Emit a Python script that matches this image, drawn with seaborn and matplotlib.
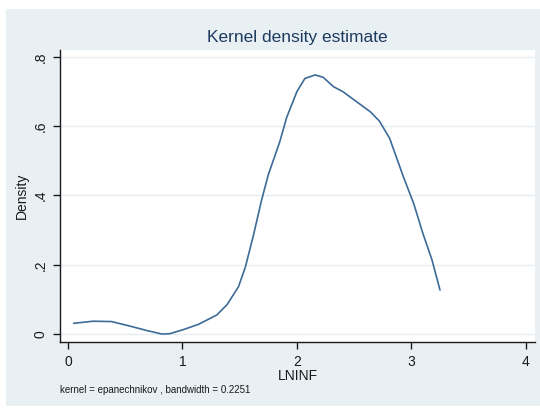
import matplotlib
matplotlib.use("Agg")
import matplotlib.pyplot as plt
import seaborn as sns
import pandas as pd
from matplotlib.patches import Rectangle

sns.set_theme(style="white")
plt.rcParams['font.family'] = ['Liberation Sans', 'DejaVu Sans']

lninf = [0.05, 0.22, 0.38, 0.54, 0.69, 0.82, 0.89, 1.01, 1.14, 1.30, 1.39, 1.49,
         1.55, 1.62, 1.69, 1.75, 1.85, 1.91, 2.00, 2.07, 2.16, 2.23, 2.32, 2.40,
         2.52, 2.64, 2.72, 2.81, 2.93, 3.02, 3.10, 3.18, 3.25]
density = [0.031, 0.037, 0.036, 0.023, 0.010, 0.0, 0.001, 0.013, 0.028, 0.055, 0.085, 0.137,
           0.194, 0.285, 0.385, 0.460, 0.555, 0.625, 0.700, 0.738, 0.748, 0.741, 0.714, 0.700,
           0.671, 0.642, 0.615, 0.565, 0.454, 0.377, 0.291, 0.214, 0.127]
xticks = [0, 1, 2, 3, 4]
yticks = [0, 0.2, 0.4, 0.6, 0.8]
ytick_labels = ["0", ".2", ".4", ".6", ".8"]

df = pd.DataFrame({"LNINF": lninf, "Density": density})

W, H = 540, 408
fig = plt.figure(figsize=(5.4, 4.08), dpi=100, facecolor="white")
bg = fig.add_axes([6 / W, 1 - 406 / H, (W - 6) / W, (406 - 9) / H], zorder=-5)
bg.add_patch(Rectangle((0, 0), 1, 1, transform=bg.transAxes, facecolor="#e9f0f3",
                       edgecolor="none"))
bg.set_axis_off()

ax = fig.add_axes([60 / W, 1 - 342 / H, (535 - 60) / W, (342 - 50) / H], zorder=1)
ax.set_facecolor("white")

for yv in yticks:
    ax.axhline(yv, color="#e6eef0", lw=1.0, zorder=0)

sns.lineplot(data=df, x="LNINF", y="Density", ax=ax, color="#3d6b98", lw=1.2,
             estimator=None, sort=False)

ax.set_xlim(-0.07, 4.08)
ax.set_ylim(-0.023, 0.82)
ax.set_xticks(xticks)
ax.set_xticklabels([str(t) for t in xticks], fontsize=10, color="#1a1a1a")
ax.set_yticks(yticks)
ax.set_yticklabels(ytick_labels, fontsize=10, color="#1a1a1a", rotation=90, va="center")
ax.tick_params(axis="both", direction="out", length=5, width=1, color="#1a1a1a",
               bottom=True, left=True, pad=4)

for side in ["top", "right"]:
    ax.spines[side].set_visible(False)
for side in ["left", "bottom"]:
    ax.spines[side].set_color("#1a1a1a")
    ax.spines[side].set_linewidth(1.0)

ax.set_xlabel("LNINF", fontsize=10, color="#1a1a1a", labelpad=0)
ax.set_ylabel("Density", fontsize=10, color="#1a1a1a", labelpad=3)
ax.set_title("Kernel density estimate", fontsize=12.5, color="#1e3a5f", pad=6)

fig.text(60 / W, 1 - 390 / H, "kernel = epanechnikov , bandwidth = 0.2251",
         fontsize=7, color="#1a1a1a", va="center", ha="left")

fig.savefig("out.png", dpi=100, facecolor=fig.get_facecolor())
